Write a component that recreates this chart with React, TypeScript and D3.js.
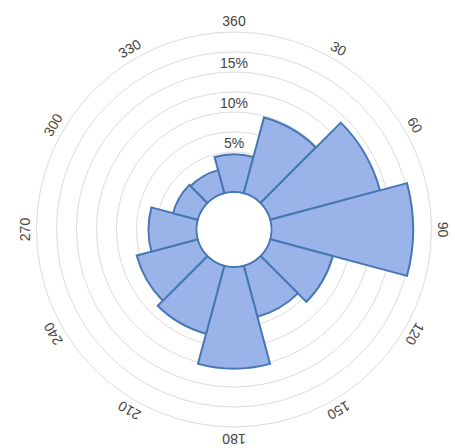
import React from "react";
import * as d3 from "d3";

const directions = [0, 30, 60, 90, 120, 150, 180, 210, 240, 270, 300, 330];
const frequencies = [4.7, 9.8, 14.2, 17.7, 8.1, 6.6, 12.7, 8.8, 7.9, 6.0, 3.2, 3.0];
const angleLabels = ["360", "30", "60", "90", "120", "150", "180", "210", "240", "270", "300", "330"];
const ringValues = [5, 7.5, 10, 12.5, 15, 17.5, 20];
const radialTickValues = [5, 10, 15];

const W = 455;
const H = 448;
const CX = 234;
const CY = 229.5;
const INNER = 37.5;

export default function App() {
  const r = d3.scaleLinear().domain([0, 20]).range([INNER, 197.5]);
  const arc = d3.arc<any>();
  const toRad = (deg: number) => (deg * Math.PI) / 180;
  const labelR = 209;

  return (
    <svg
      width={W}
      height={H}
      style={{ position: "absolute", left: 0, top: 0, background: "#fff" }}
      fontFamily="'Liberation Sans', Arial, sans-serif"
    >
      <g transform={`translate(${CX},${CY})`}>
        {ringValues.map((v) => (
          <circle key={v} r={r(v)} fill="none" stroke="#dcdcdc" strokeWidth={1} />
        ))}
        {directions.map((d, i) => (
          <path
            key={d}
            d={
              arc({
                innerRadius: INNER,
                outerRadius: r(frequencies[i]),
                startAngle: toRad(d - 15),
                endAngle: toRad(d + 15),
              }) as string
            }
            fill="#9ab4ea"
            stroke="#4677b5"
            strokeWidth={2}
            strokeLinejoin="miter"
          />
        ))}
        <circle r={INNER - 1} fill="#fff" />
        {radialTickValues.map((v) => (
          <text
            key={v}
            x={0}
            y={-r(v) - 4}
            textAnchor="middle"
            fontSize={14}
            fill="#444"
          >
            {`${v}%`}
          </text>
        ))}
        {directions.map((d, i) => {
          const a = toRad(d);
          const x = labelR * Math.sin(a);
          const y = -labelR * Math.cos(a);
          return (
            <text
              key={d}
              x={x}
              y={y}
              textAnchor="middle"
              dominantBaseline="central"
              fontSize={14}
              fill="#444"
              transform={`rotate(${d},${x},${y})`}
            >
              {angleLabels[i]}
            </text>
          );
        })}
      </g>
    </svg>
  );
}
